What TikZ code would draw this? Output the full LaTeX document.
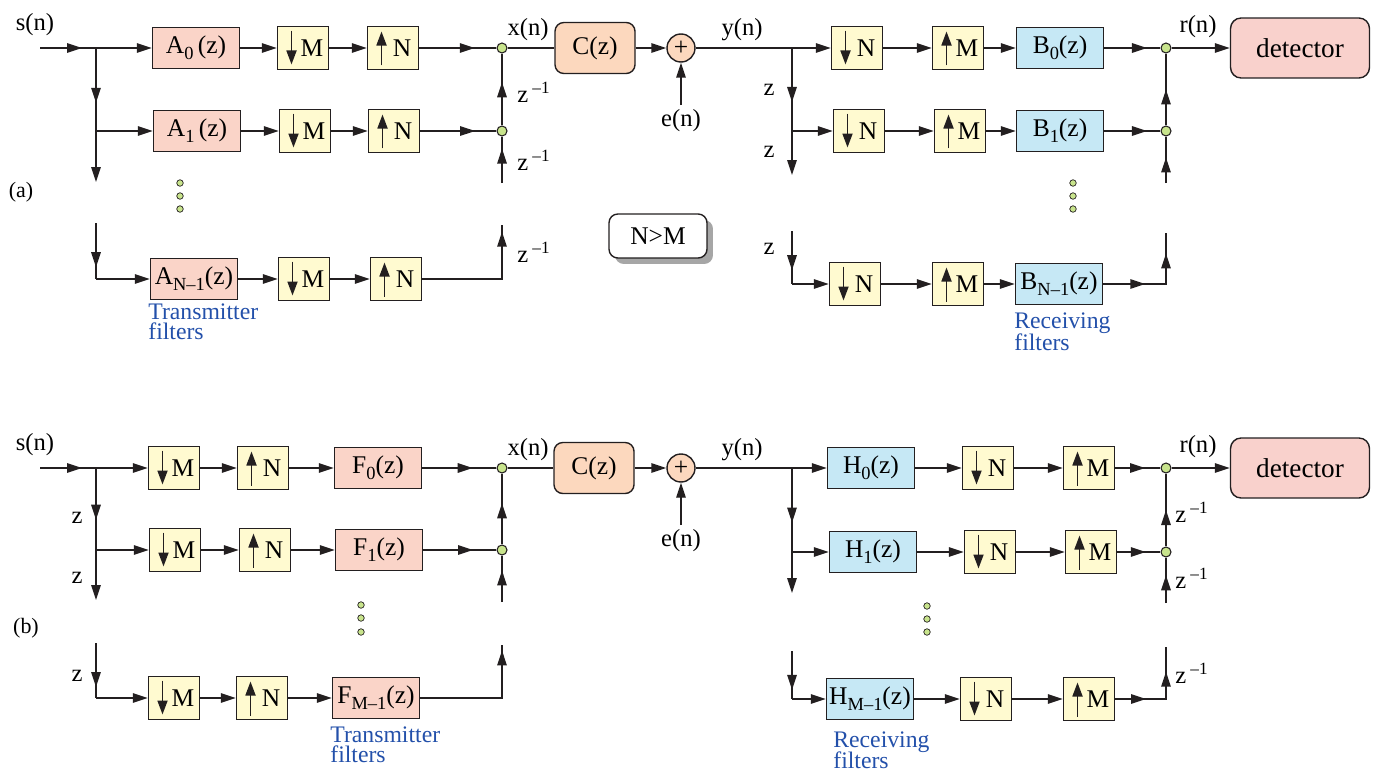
\documentclass[tikz,border=0pt]{standalone}
\usepackage{fontspec}
\setmainfont{Liberation Serif}
\usetikzlibrary{arrows.meta,decorations.markings,shadows}
\definecolor{tLine} {RGB}{ 35, 31, 32}
\definecolor{tRate} {RGB}{255,250,208}
\definecolor{tTx}   {RGB}{250,212,200}
\definecolor{tRx}   {RGB}{198,232,245}
\definecolor{tChan} {RGB}{252,216,190}
\definecolor{tDet}  {RGB}{249,209,204}
\definecolor{tNode} {RGB}{200,228,140}
\definecolor{tNote} {RGB}{ 35, 80,170}

\begin{document}
\begin{tikzpicture}[x=0.02cm, y=-0.02cm]

% ---------------------------------------------------------------- styles
\tikzset{
  wire/.style   = {draw=tLine, line width=0.8pt},
  arr/.style    = {wire, -{Triangle[length=0.3cm,width=0.19cm]}},
  midarr/.style = {wire, postaction={decorate, decoration={markings,
                   mark=at position #1 with {\arrow{Triangle[length=0.3cm,width=0.19cm]}}}}},
  twoarr/.style 2 args = {wire, postaction={decorate, decoration={markings,
                   mark=at position #1 with {\arrow{Triangle[length=0.3cm,width=0.19cm]}},
                   mark=at position #2 with {\arrow{Triangle[length=0.3cm,width=0.19cm]}}}}},
  blk/.style    = {draw=tLine, line width=0.8pt, inner sep=0pt,
                   font=\fontsize{14.5}{16}\selectfont},
  rate/.style   = {blk, fill=tRate, minimum width=1.02cm, minimum height=0.86cm},
  dnbox/.style  = {rate, path picture={\draw[line width=1pt,
                   -{Triangle[length=0.28cm,width=0.2cm]}]
                   ([xshift=0.28cm,yshift=-0.08cm]path picture bounding box.north west) --
                   ([xshift=0.28cm,yshift=0.1cm]path picture bounding box.south west);}},
  upbox/.style  = {rate, path picture={\draw[line width=1pt,
                   -{Triangle[length=0.28cm,width=0.2cm]}]
                   ([xshift=0.28cm,yshift=0.08cm]path picture bounding box.south west) --
                   ([xshift=0.28cm,yshift=-0.1cm]path picture bounding box.north west);}},
  txf/.style    = {blk, fill=tTx, minimum width=1.74cm, minimum height=0.82cm},
  rxf/.style    = {blk, fill=tRx, minimum width=1.74cm, minimum height=0.82cm},
  chan/.style   = {blk, fill=tChan, rounded corners=5pt,
                   minimum width=1.6cm, minimum height=1.02cm},
  sum/.style    = {blk, circle, fill=tChan, minimum size=0.56cm},
  det/.style    = {blk, fill=tDet, rounded corners=6pt, font=\fontsize{15.5}{17}\selectfont,
                   minimum width=2.78cm, minimum height=1.2cm},
  cond/.style   = {blk, fill=white, rounded corners=5pt,
                   minimum width=1.96cm, minimum height=0.88cm,
                   drop shadow={shadow xshift=0.12cm, shadow yshift=-0.12cm,
                                fill=black!35, opacity=1}},
  junc/.style   = {circle, draw=tLine, line width=0.6pt, fill=tNode,
                   minimum size=0.2cm, inner sep=0pt},
  dot/.style    = {circle, draw=tLine, line width=0.4pt, fill=tNode,
                   minimum size=0.13cm, inner sep=0pt},
  sig/.style    = {inner sep=0pt, font=\fontsize{14}{16}\selectfont},
  note/.style   = {inner sep=0pt, anchor=base west, text=tNote,
                   font=\fontsize{13.5}{15}\selectfont},
}
\newcommand{\zinv}{z\,\textsuperscript{–1}}
\newcommand{\sbs}[1]{\raisebox{-0.5ex}{\fontsize{10.5}{11}\selectfont #1}}

\useasboundingbox (0,0) rectangle (1379,774);

% ================================================================ (a) transmitter
\node[txf]   (fa0)  at (196,48)  {A\sbs{0}\,(z)};
\node[dnbox] (dma0) at (303,48)  {\hspace*{0.36cm}M};
\node[upbox] (una0) at (393,48)  {\hspace*{0.36cm}N};
\node[txf]   (fa1)  at (197,131) {A\sbs{1}\,(z)};
\node[dnbox] (dma1) at (305,131) {\hspace*{0.36cm}M};
\node[upbox] (una1) at (394,131) {\hspace*{0.36cm}N};
\node[txf]   (faN)  at (194,279) {A\sbs{N–1}(z)};
\node[dnbox] (dmaN) at (304,279) {\hspace*{0.36cm}M};
\node[upbox] (unaN) at (396,279) {\hspace*{0.36cm}N};
\node[junc]  (ja0)  at (502,48)  {};
\node[junc]  (ja1)  at (502,131) {};

\coordinate (sa)  at (40,48);
\coordinate (ta0) at (96,48);
\coordinate (ta1) at (96,131);
\coordinate (ta2) at (96,182);
\coordinate (ta3) at (96,223);
\coordinate (ta4) at (96,279);
\coordinate (jaB) at (502,183);
\coordinate (jaT) at (502,225);

\draw[midarr=0.75] (sa) -- (ta0);
\draw[arr]  (ta0) -- (fa0);
\draw[midarr=0.66] (ta0) -- (ta1);
\draw[arr]  (ta1) -- (fa1);
\draw[arr]  (ta1) -- (ta2);
\draw[midarr=0.79] (ta3) -- (ta4);
\draw[arr]  (ta4) -- (faN);
\foreach \r in {0,1,N} {
  \draw[arr] (fa\r) -- (dma\r);
  \draw[arr] (dma\r) -- (una\r);
}
\draw[midarr=0.72] (una0) -- (ja0);
\draw[midarr=0.72] (una1) -- (ja1);
\draw[midarr=0.6]  (ja1) -- (ja0);
\draw[midarr=0.74] (jaB) -- (ja1);
\draw[midarr=0.95] (unaN) -| (jaT);

\node[sig] (sna)  at (35,25)   {s(n)};
\node[sig] (za1)  at (534,92)  {\zinv};
\node[sig] (za2)  at (534,160) {\zinv};
\node[sig] (za3)  at (534,252) {\zinv};
\node[sig, font=\fontsize{12.5}{14}\selectfont] (lba) at (21,192) {(a)};
\node[dot] (da1) at (180,183) {};
\node[dot] (da2) at (180,196) {};
\node[dot] (da3) at (180,209) {};
\node[note] (nta1) at (148,319) {Transmitter};
\node[note] (nta2) at (148,339) {filters};

% ================================================================ (a) channel
\node[chan] (cza)  at (595,48) {C(z)};
\node[sum]  (suma) at (681,48) {+};
\coordinate (ea) at (681,105);
\draw[wire] (ja0) -- (cza);
\draw[arr]  (cza) -- (suma);
\draw[arr]  (ea) -- (suma);
\node[sig] (xna) at (528,30)  {x(n)};
\node[sig] (ena) at (681,121) {e(n)};
\node[sig] (yna) at (742,30)  {y(n)};
\node[cond] (nm) at (658,236) {N>M};

% ================================================================ (a) receiver
\node[dnbox] (rdna0) at (857,48)  {\hspace*{0.36cm}N};
\node[upbox] (rupa0) at (958,48)  {\hspace*{0.36cm}M};
\node[rxf]   (bfa0)  at (1060,48) {B\sbs{0}(z)};
\node[dnbox] (rdna1) at (859,131) {\hspace*{0.36cm}N};
\node[upbox] (rupa1) at (960,131) {\hspace*{0.36cm}M};
\node[rxf]   (bfa1)  at (1060,131){B\sbs{1}(z)};
\node[dnbox] (rdnaN) at (855,284) {\hspace*{0.36cm}N};
\node[upbox] (rupaN) at (958,284) {\hspace*{0.36cm}M};
\node[rxf]   (bfaN)  at (1059,284){B\sbs{N–1}(z)};
\node[junc]  (jr0)   at (1166,48)  {};
\node[junc]  (jr1)   at (1166,131) {};
\node[det]   (deta)  at (1300,48)  {detector};

\coordinate (ra0) at (792,48);
\coordinate (ra1) at (792,131);
\coordinate (ra2) at (792,175);
\coordinate (ra3) at (792,231);
\coordinate (ra4) at (792,284);
\coordinate (jrB) at (1166,183);
\coordinate (jrT) at (1166,233);

\draw[wire] (suma) -- (ra0);
\draw[arr]  (ra0) -- (rdna0);
\draw[midarr=0.65] (ra0) -- (ra1);
\draw[arr]  (ra1) -- (rdna1);
\draw[arr]  (ra1) -- (ra2);
\draw[midarr=0.74] (ra3) -- (ra4);
\draw[arr]  (ra4) -- (rdnaN);
\foreach \r in {0,1,N} {
  \draw[arr] (rdna\r) -- (rupa\r);
  \draw[arr] (rupa\r) -- (bfa\r);
}
\draw[midarr=0.76] (bfa0) -- (jr0);
\draw[midarr=0.76] (bfa1) -- (jr1);
\draw[midarr=0.5]  (jr1) -- (jr0);
\draw[midarr=0.55] (jrB) -- (jr1);
\draw[twoarr={0.37}{0.82}] (bfaN) -| (jrT);
\draw[arr]  (jr0) -- (deta);

\node[sig] (rna) at (1198,27) {r(n)};
\node[sig] (zr1) at (769,90)  {z};
\node[sig] (zr2) at (769,152) {z};
\node[sig] (zr3) at (769,249) {z};
\node[dot] (dr1) at (1073,183) {};
\node[dot] (dr2) at (1073,196) {};
\node[dot] (dr3) at (1073,209) {};
\node[note] (nra1) at (1014,328) {Receiving};
\node[note] (nra2) at (1014,350) {filters};

% ================================================================ (b) transmitter
\node[dnbox] (dmb0) at (174,468) {\hspace*{0.36cm}M};
\node[upbox] (unb0) at (263,468) {\hspace*{0.36cm}N};
\node[txf]   (ffb0) at (378,468) {F\sbs{0}(z)};
\node[dnbox] (dmb1) at (175,550) {\hspace*{0.36cm}M};
\node[upbox] (unb1) at (265,550) {\hspace*{0.36cm}N};
\node[txf]   (ffb1) at (379,550) {F\sbs{1}(z)};
\node[dnbox] (dmbN) at (174,698) {\hspace*{0.36cm}M};
\node[upbox] (unbN) at (262,698) {\hspace*{0.36cm}N};
\node[txf]   (ffbN) at (376,698) {F\sbs{M–1}(z)};
\node[junc]  (jb0)  at (502,468) {};
\node[junc]  (jb1)  at (502,550) {};

\coordinate (sb)  at (40,468);
\coordinate (tb0) at (96,468);
\coordinate (tb1) at (96,550);
\coordinate (tb2) at (96,600);
\coordinate (tb3) at (96,643);
\coordinate (tb4) at (96,698);
\coordinate (jbB) at (502,602);
\coordinate (jbT) at (502,645);

\draw[midarr=0.75] (sb) -- (tb0);
\draw[arr]  (tb0) -- (dmb0);
\draw[midarr=0.63] (tb0) -- (tb1);
\draw[arr]  (tb1) -- (dmb1);
\draw[arr]  (tb1) -- (tb2);
\draw[midarr=0.8] (tb3) -- (tb4);
\draw[arr]  (tb4) -- (dmbN);
\foreach \r in {0,1,N} {
  \draw[arr] (dmb\r) -- (unb\r);
  \draw[arr] (unb\r) -- (ffb\r);
}
\draw[midarr=0.68] (ffb0) -- (jb0);
\draw[midarr=0.68] (ffb1) -- (jb1);
\draw[midarr=0.58] (jb1) -- (jb0);
\draw[midarr=0.68] (jbB) -- (jb1);
\draw[midarr=0.96] (ffbN) -| (jbT);

\node[sig] (snb) at (35,445)  {s(n)};
\node[sig] (zb1) at (77,518)  {z};
\node[sig] (zb2) at (77,578)  {z};
\node[sig] (zb3) at (77,676)  {z};
\node[sig, font=\fontsize{12.5}{14}\selectfont] (lbb) at (26,628) {(b)};
\node[dot] (db1) at (361,605) {};
\node[dot] (db2) at (361,618) {};
\node[dot] (db3) at (361,632) {};
\node[note] (ntb1) at (330,742) {Transmitter};
\node[note] (ntb2) at (330,762) {filters};

% ================================================================ (b) channel
\node[chan] (czb)  at (594,468) {C(z)};
\node[sum]  (sumb) at (681,468) {+};
\coordinate (eb) at (681,525);
\draw[wire] (jb0) -- (czb);
\draw[arr]  (czb) -- (sumb);
\draw[arr]  (eb) -- (sumb);
\node[sig] (xnb) at (528,450) {x(n)};
\node[sig] (enb) at (681,541) {e(n)};
\node[sig] (ynb) at (742,450) {y(n)};

% ================================================================ (b) receiver
\node[rxf]   (hb0)   at (871,468)  {H\sbs{0}(z)};
\node[dnbox] (rdnb0) at (988,468)  {\hspace*{0.36cm}N};
\node[upbox] (rupb0) at (1089,468) {\hspace*{0.36cm}M};
\node[rxf]   (hb1)   at (873,552)  {H\sbs{1}(z)};
\node[dnbox] (rdnb1) at (990,552)  {\hspace*{0.36cm}N};
\node[upbox] (rupb1) at (1091,552) {\hspace*{0.36cm}M};
\node[rxf]   (hbN)   at (870,699)  {H\sbs{M–1}(z)};
\node[dnbox] (rdnbN) at (986,699)  {\hspace*{0.36cm}N};
\node[upbox] (rupbN) at (1089,699) {\hspace*{0.36cm}M};
\node[junc]  (js0)   at (1166,468) {};
\node[junc]  (js1)   at (1166,552) {};
\node[det]   (detb)  at (1300,468) {detector};

\coordinate (rb0) at (792,468);
\coordinate (rb1) at (792,552);
\coordinate (rb2) at (792,593);
\coordinate (rb3) at (792,651);
\coordinate (rb4) at (792,699);
\coordinate (jsB) at (1166,603);
\coordinate (jsT) at (1166,647);

\draw[wire] (sumb) -- (rb0);
\draw[arr]  (rb0) -- (hb0);
\draw[midarr=0.65] (rb0) -- (rb1);
\draw[arr]  (rb1) -- (hb1);
\draw[arr]  (rb1) -- (rb2);
\draw[midarr=0.81] (rb3) -- (rb4);
\draw[arr]  (rb4) -- (hbN);
\foreach \r in {0,1,N} {
  \draw[arr] (hb\r) -- (rdnb\r);
  \draw[arr] (rdnb\r) -- (rupb\r);
}
\draw[midarr=0.66] (rupb0) -- (js0);
\draw[midarr=0.66] (rupb1) -- (js1);
\draw[midarr=0.5]  (js1) -- (js0);
\draw[midarr=0.61] (jsB) -- (js1);
\draw[twoarr={0.30}{0.76}] (rupbN) -| (jsT);
\draw[arr]  (js0) -- (detb);

\node[sig] (rnb) at (1198,447) {r(n)};
\node[sig] (zs1) at (1192,512) {\zinv};
\node[sig] (zs2) at (1192,578) {\zinv};
\node[sig] (zs3) at (1192,673) {\zinv};
\node[dot] (ds1) at (927,606) {};
\node[dot] (ds2) at (927,619) {};
\node[dot] (ds3) at (927,632) {};
\node[note] (nrb1) at (833,747) {Receiving};
\node[note] (nrb2) at (833,768) {filters};

\end{tikzpicture}
\end{document}
